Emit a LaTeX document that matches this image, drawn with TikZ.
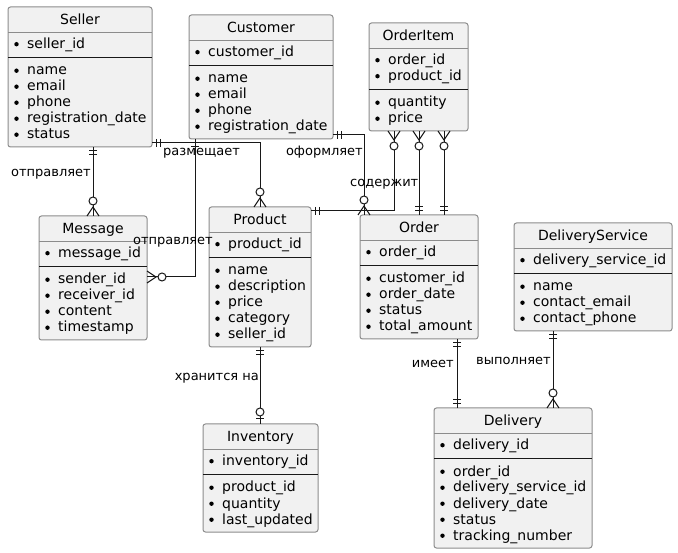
\documentclass[tikz,border=0pt]{standalone}
\usepackage{fontspec}
\setmainfont{DejaVu Sans}
\usetikzlibrary{calc}
\definecolor{efill}{HTML}{F1F1F1}
\definecolor{edraw}{HTML}{8C8C8C}
\definecolor{lnk}{HTML}{181818}
\tikzset{
 ebox/.style={draw=edraw, fill=efill, line width=1pt, rounded corners=2.5pt, inner sep=0pt, outer sep=0pt},
 sepg/.style={draw=edraw, line width=1pt},
 sepk/.style={draw=lnk, line width=1pt},
 etitle/.style={inner sep=0pt, font=\fontsize{14}{16}\selectfont},
 eattr/.style={inner sep=0pt, anchor=base west, font=\fontsize{14}{16}\selectfont},
 conn/.style={draw=lnk, line width=1pt},
 lbl/.style={inner sep=0pt, font=\fontsize{13}{15}\selectfont},
}
\newcommand\entity[9]{%
 \pgfmathsetmacro\hA{#3+26}%
 \pgfmathsetmacro\hB{#3+26+16*#8+9}%
 \pgfmathsetmacro\hC{#3+26+16*#8+9+16*#9+9}%
 \node[ebox, anchor=north west, minimum width={(#4-#2)*1pt}, minimum height={(\hC-#3)*1pt}] (#1) at (#2,#3) {};
 \draw[sepg] (#2,\hA) -- (#4,\hA);
 \draw[sepk] (#2,\hB) -- (#4,\hB);
 \node[etitle, anchor=base] (#1-t) at ({(#2+#4)/2},#3+18) {#5};
 \foreach \ee [count=\i] in {#6} {\fill (#2+8.5,{\hA+16*\i-4.8}) circle[radius=2.2pt]; \node[eattr] (#1-k\i) at (#2+19,{\hA+16*\i-0.5}) {\ee};}
 \foreach \ee [count=\i] in {#7} {\fill (#2+8.5,{\hB+16*\i-3.3}) circle[radius=2.2pt]; \node[eattr] (#1-a\i) at (#2+19,{\hB+16*\i+1}) {\ee};}
}
\newcommand\mkone[2]{\begin{scope}[shift={(#1)},rotate=#2]\draw[conn] (4,-4)--(4,4) (8,-4)--(8,4);\end{scope}}
\newcommand\mkmany[2]{\begin{scope}[shift={(#1)},rotate=#2]\draw[conn] (0,6)--(9,0)--(0,-6); \draw[conn,fill=white] (15,0) circle[radius=4pt];\end{scope}}
\newcommand\mkzone[2]{\begin{scope}[shift={(#1)},rotate=#2]\draw[conn] (5,-4)--(5,4); \draw[conn,fill=white] (12,0) circle[radius=4pt];\end{scope}}
\begin{document}
\begin{tikzpicture}[x=1pt,y=-1pt]
\fill[white] (0,0) rectangle (678,553);
\useasboundingbox (0,0) rectangle (678,553);
\entity{seller}{8}{7}{152}{Seller}{seller\_id}{name,email,phone,registration\_date,status}{1}{5}
\entity{cust}{189}{15}{333}{Customer}{customer\_id}{name,email,phone,registration\_date}{1}{4}
\entity{oi}{369}{23}{468}{OrderItem}{order\_id,product\_id}{quantity,price}{2}{2}
\entity{msg}{39}{216}{147}{Message}{message\_id}{sender\_id,receiver\_id,content,timestamp}{1}{4}
\entity{prod}{209}{207}{311}{Product}{product\_id}{name,description,price,category,seller\_id}{1}{5}
\entity{ord}{360}{215}{478}{Order}{order\_id}{customer\_id,order\_date,status,total\_amount}{1}{4}
\entity{ds}{514}{223}{672}{DeliveryService}{delivery\_service\_id}{name,contact\_email,contact\_phone}{1}{3}
\entity{inv}{203}{424}{318}{Inventory}{inventory\_id}{product\_id,quantity,last\_updated}{1}{3}
\entity{del}{434}{408}{592}{Delivery}{delivery\_id}{order\_id,delivery\_service\_id,delivery\_date,status,tracking\_number}{1}{5}
% connector end points
\coordinate (c1a) at (msg.north |- seller.south);
\coordinate (c1b) at (msg.north);
\coordinate (c2a) at ($(seller.south east)+(0,-4)$);
\coordinate (c2b) at (prod.north);
\coordinate (c3a) at ($(cust.south west)+(6,0)$);
\coordinate (c3b) at ($(msg.north east)+(0,61)$);
\coordinate (c4a) at ($(cust.south east)+(0,-4)$);
\coordinate (c4b) at ($(ord.north west)+(4,0)$);
\coordinate (c5a) at ($(oi.south west)+(25,0)$);
\coordinate (c5b) at ($(prod.north east)+(0,4)$);
\coordinate (c6a) at ($(oi.south west)+(50,0)$);
\coordinate (c6b) at (c6a |- ord.north);
\coordinate (c7a) at ($(oi.south west)+(75,0)$);
\coordinate (c7b) at (c7a |- ord.north);
\coordinate (c8a) at (prod.south);
\coordinate (c8b) at (prod.south |- inv.north);
\coordinate (c9b) at ($(del.north west)+(23,0)$);
\coordinate (c9a) at (c9b |- ord.south);
\coordinate (c10b) at ($(del.north east)+(-39,0)$);
\coordinate (c10a) at (c10b |- ds.south);
% connectors
\draw[conn] (c1a) -- (c1b);
\draw[conn] (c2a) -- (c2a -| c2b) -- (c2b);
\draw[conn] (c3a) -- (c3a |- c3b) -- (c3b);
\draw[conn] (c4a) -- (c4a -| c4b) -- (c4b);
\draw[conn] (c5a) -- (c5a |- c5b) -- (c5b);
\draw[conn] (c6a) -- (c6b);
\draw[conn] (c7a) -- (c7b);
\draw[conn] (c8a) -- (c8b);
\draw[conn] (c9a) -- (c9b);
\draw[conn] (c10a) -- (c10b);
% ends
\mkone{c1a}{-90} \mkmany{c1b}{90}
\mkone{c2a}{0} \mkmany{c2b}{90}
\mkone{c3a}{-90} \mkmany{c3b}{0}
\mkone{c4a}{0} \mkmany{c4b}{90}
\mkmany{c5a}{-90} \mkone{c5b}{0}
\mkmany{c6a}{-90} \mkone{c6b}{90}
\mkmany{c7a}{-90} \mkone{c7b}{90}
\mkone{c8a}{-90} \mkzone{c8b}{90}
\mkone{c9a}{-90} \mkone{c9b}{90}
\mkone{c10a}{-90} \mkmany{c10b}{90}
% labels
\node[lbl, anchor=base east] (l1) at (91,176.5) {отправляет};
\node[lbl, anchor=base west] (l2) at (163,155.5) {размещает};
\node[lbl, anchor=base east] (l3) at (213,244.5) {отправляет};
\node[lbl, anchor=base east] (l4) at (363,155.5) {оформляет};
\node[lbl, anchor=base west] (l5) at (350,186.5) {содержит};
\node[lbl, anchor=base east] (l6) at (259,380.5) {хранится на};
\node[lbl, anchor=base east] (l7) at (454,367.5) {имеет};
\node[lbl, anchor=base east] (l8) at (551,364.5) {выполняет};
\end{tikzpicture}
\end{document}
